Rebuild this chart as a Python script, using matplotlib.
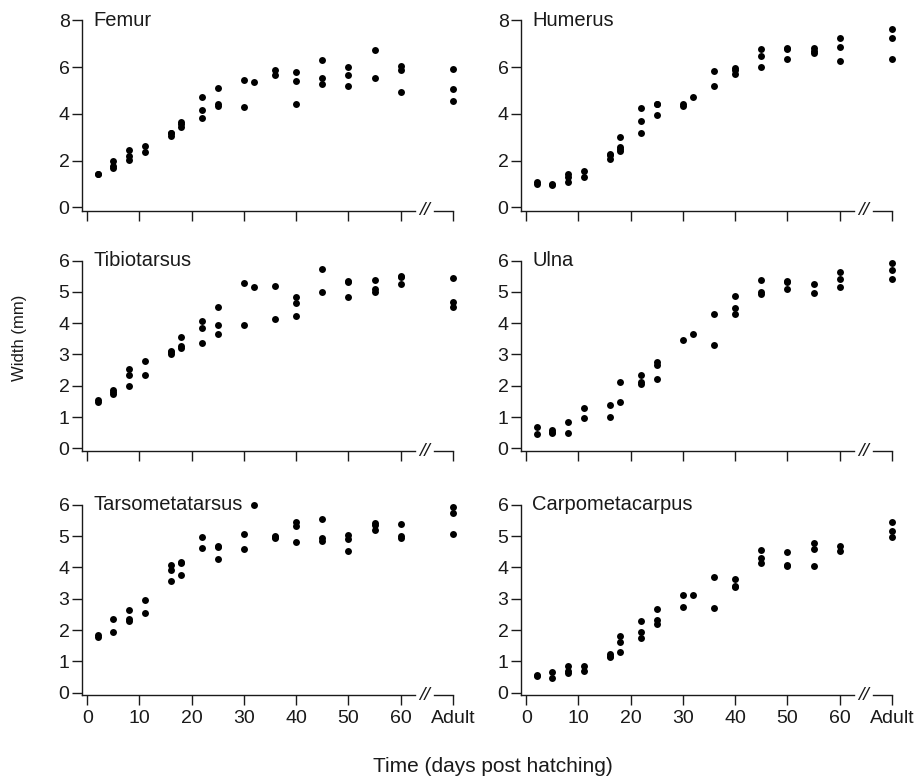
import numpy as np
import matplotlib.pyplot as plt
import matplotlib.transforms as mtransforms

plt.rcParams['font.family'] = ['Liberation Sans', 'DejaVu Sans']

# ---------------------------------------------------------------
# Data: bone width (mm) by day post hatching, 70 stands for "Adult"
# ---------------------------------------------------------------
femur = {2: [1.44, 1.42], 5: [2.0, 1.75, 1.7], 8: [2.45, 2.2, 2.02],
         11: [2.62, 2.35], 16: [3.2, 3.07, 3.16], 18: [3.64, 3.44, 3.56],
         22: [4.73, 4.16, 3.84], 25: [5.12, 4.41, 4.33], 30: [5.44, 4.28],
         32: [5.37], 36: [5.89, 5.64], 40: [5.79, 5.4, 4.4],
         45: [6.29, 5.54, 5.27], 50: [6.0, 5.64, 5.17], 55: [6.72, 5.55],
         60: [6.06, 5.89, 4.93], 70: [5.92, 5.08, 4.56]}

humerus = {2: [1.1, 1.0], 5: [0.97, 1.0], 8: [1.42, 1.3, 1.1],
           11: [1.57, 1.31], 16: [2.3, 2.22, 2.06], 18: [3.0, 2.59, 2.42, 2.5],
           22: [4.24, 3.69, 3.19], 25: [4.43, 3.96, 4.41], 30: [4.4, 4.34],
           32: [4.73], 36: [5.81, 5.2], 40: [5.94, 5.72, 5.87],
           45: [6.76, 6.45, 6.0], 50: [6.82, 6.75, 6.33], 55: [6.83, 6.69, 6.6],
           60: [7.22, 6.85, 6.25], 70: [7.62, 7.26, 6.36]}

tibiotarsus = {2: [1.55, 1.48], 5: [1.86, 1.75, 1.79], 8: [2.55, 2.34, 1.98],
               11: [2.78, 2.34], 16: [3.1, 3.02, 3.07], 18: [3.56, 3.28, 3.2],
               22: [4.06, 3.85, 3.38], 25: [4.51, 3.95, 3.64], 30: [5.27, 3.95],
               32: [5.17], 36: [5.18, 4.13], 40: [4.82, 4.63, 4.22],
               45: [5.74, 4.99], 50: [5.34, 5.3, 4.84], 55: [5.38, 5.1, 4.99],
               60: [5.51, 5.47, 5.24], 70: [5.45, 4.67, 4.5]}

ulna = {2: [0.69, 0.45], 5: [0.6, 0.48, 0.54], 8: [0.84, 0.5],
        11: [1.28, 0.96], 16: [1.4, 1.02], 18: [2.12, 1.48],
        22: [2.34, 2.12, 2.05], 25: [2.76, 2.67, 2.21], 30: [3.46],
        32: [3.64], 36: [4.3, 3.29], 40: [4.87, 4.49, 4.28],
        45: [5.38, 4.99, 4.93], 50: [5.36, 5.3, 5.1], 55: [5.24, 4.96],
        60: [5.63, 5.4, 5.15], 70: [5.93, 5.7, 5.4]}

tarsometatarsus = {2: [1.85, 1.79], 5: [2.34, 1.93], 8: [2.64, 2.34, 2.29],
                   11: [2.95, 2.54], 16: [4.07, 3.93, 3.57], 18: [4.14, 3.77, 4.16],
                   22: [4.96, 4.62], 25: [4.69, 4.66, 4.26], 30: [5.08, 4.6],
                   32: [5.99], 36: [5.01, 4.93, 4.97], 40: [5.45, 5.31, 4.81],
                   45: [5.54, 4.95, 4.86], 50: [5.04, 4.9, 4.53], 55: [5.42, 5.34, 5.18],
                   60: [5.38, 5.01, 4.95], 70: [5.93, 5.74, 5.08]}

carpometacarpus = {2: [0.58, 0.55], 5: [0.65, 0.46], 8: [0.87, 0.64, 0.7],
                   11: [0.84, 0.7], 16: [1.25, 1.13, 1.19], 18: [1.8, 1.63, 1.31],
                   22: [2.3, 1.93, 1.76], 25: [2.67, 2.33, 2.18], 30: [3.12, 2.75],
                   32: [3.12], 36: [3.7, 2.7], 40: [3.63, 3.42, 3.38],
                   45: [4.56, 4.31, 4.14], 50: [4.48, 4.07, 4.05], 55: [4.77, 4.59, 4.06],
                   60: [4.69, 4.53], 70: [5.44, 5.15, 4.96]}

panels = [('Femur', femur, 8), ('Humerus', humerus, 8),
          ('Tibiotarsus', tibiotarsus, 6), ('Ulna', ulna, 6),
          ('Tarsometatarsus', tarsometatarsus, 6), ('Carpometacarpus', carpometacarpus, 6)]

x_ticks = [0, 10, 20, 30, 40, 50, 60, 70]
x_labels = ['0', '10', '20', '30', '40', '50', '60', 'Adult']

# ---------------------------------------------------------------
# Layout (figure fractions)
# ---------------------------------------------------------------
W, H = 921, 781
col_left = [82 / W, 521 / W]
col_width = 371 / W
row_bottom = [1 - 210.7 / H, 1 - 451 / H, 1 - 695.3 / H]
row_height = 190.5 / H
ink = '#1a1a1a'

fig = plt.figure(figsize=(W / 100, H / 100), dpi=100)

for i, (name, data, ytop) in enumerate(panels):
    r, c = divmod(i, 2)
    ax = fig.add_axes([col_left[c], row_bottom[r], col_width, row_height])

    xs = [d for d, vals in data.items() for v in vals]
    ys = [v for d, vals in data.items() for v in vals]
    ax.plot(xs, ys, 'o', color='black', ms=5.0, mew=0, clip_on=False)

    ybot = -0.14 if ytop == 8 else -0.08
    ax.set_xlim(-1, 70)
    ax.set_ylim(ybot, ytop)
    ax.set_yticks(np.arange(0, ytop + 1, 2 if ytop == 8 else 1))
    ax.set_xticks(x_ticks)
    if r == 2:
        ax.set_xticklabels(x_labels)
    else:
        ax.set_xticklabels([])

    for s in ['top', 'right']:
        ax.spines[s].set_visible(False)
    for s in ['left', 'bottom']:
        ax.spines[s].set_color(ink)
        ax.spines[s].set_linewidth(1.0)
    ax.spines['bottom'].set_bounds(-1, 62.8)

    # axis break between 60 and Adult
    trans = mtransforms.blended_transform_factory(ax.transData, ax.transAxes)
    ax.plot([66.3, 70], [0, 0], color=ink, lw=1.0, transform=trans, clip_on=False)
    ax.text(64.55, 0, '//', transform=trans, ha='center', va='center',
            fontsize=14, style='italic', color=ink)

    ax.tick_params(axis='both', direction='out', length=7.5, width=1.0,
                   color=ink, labelsize=14, labelcolor=ink)
    ax.tick_params(axis='y', pad=1.5)
    ax.tick_params(axis='x', pad=3)

    ax.text(0.03, 1.0, name, transform=ax.transAxes, ha='left', va='center',
            fontsize=14.5, color=ink)

fig.text(493 / W, 1 - 766 / H, 'Time (days post hatching)', ha='center', va='center',
         fontsize=15, color=ink)
fig.text(20 / W, 1 - 338 / H, 'Width (mm)', ha='center', va='center', rotation=90,
         fontsize=12, color=ink)

plt.savefig('out.png', dpi=100)
